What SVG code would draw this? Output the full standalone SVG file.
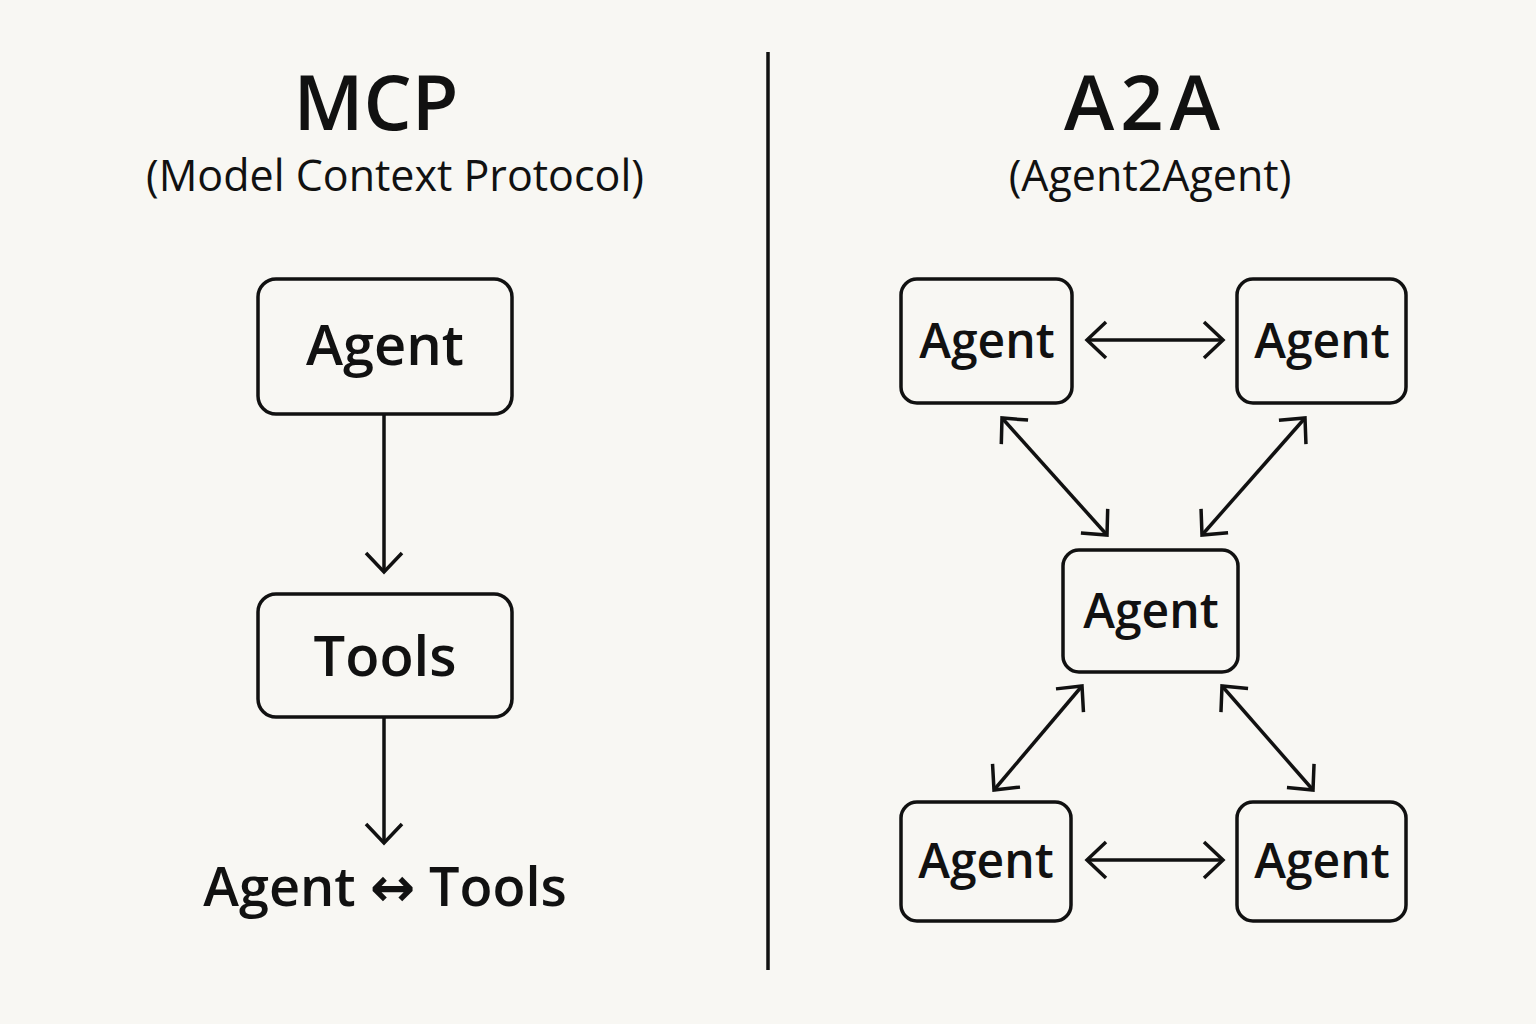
<svg xmlns="http://www.w3.org/2000/svg" width="1536" height="1024" viewBox="0 0 1536 1024">
<style>
.box{fill:none;stroke:#111;stroke-width:3.5}
.c{fill:none;stroke:#111;stroke-width:3.5}
text{font-family:"Open Sans","DejaVu Sans",sans-serif;fill:#111;text-anchor:middle}
.t{font-size:56px;font-weight:600}
.s{font-size:48px;font-weight:600}
</style>
<defs>
<marker id="a" viewBox="0 0 24 40" refX="21" refY="20" markerWidth="24" markerHeight="40" markerUnits="userSpaceOnUse" orient="auto-start-reverse">
<path d="M2 2 L21 20 L2 38" fill="none" stroke="#111" stroke-width="3.5"/>
</marker>
</defs>
<rect width="1536" height="1024" fill="#f8f7f3"/>
<line x1="768" y1="52" x2="768" y2="970" stroke="#111" stroke-width="3.5"/>
<text x="376" y="130" font-size="76" font-weight="600">MCP</text>
<text x="395" y="191" font-size="43">(Model Context Protocol)</text>
<text x="1145" y="130" font-size="76" font-weight="600" letter-spacing="6">A2A</text>
<text x="1150" y="191" font-size="43">(Agent2Agent)</text>
<g id="connectors">
<line class="c" x1="384" y1="414" x2="384" y2="572" marker-end="url(#a)"/>
<line class="c" x1="384" y1="717" x2="384" y2="843" marker-end="url(#a)"/>
<line class="c" x1="1087" y1="340" x2="1223" y2="340" marker-start="url(#a)" marker-end="url(#a)"/>
<line class="c" x1="1087" y1="860" x2="1223" y2="860" marker-start="url(#a)" marker-end="url(#a)"/>
<line class="c" x1="1002" y1="418" x2="1107" y2="535" marker-start="url(#a)" marker-end="url(#a)"/>
<line class="c" x1="1305" y1="418" x2="1202" y2="535" marker-start="url(#a)" marker-end="url(#a)"/>
<line class="c" x1="1082" y1="686" x2="994" y2="790" marker-start="url(#a)" marker-end="url(#a)"/>
<line class="c" x1="1222" y1="686" x2="1313" y2="790" marker-start="url(#a)" marker-end="url(#a)"/>
</g>
<g id="mcp-agent"><rect class="box" x="258" y="279" width="254" height="135" rx="18"/><text class="t" x="385" y="365">Agent</text></g>
<g id="mcp-tools"><rect class="box" x="258" y="594" width="254" height="123" rx="18"/><text class="t" x="385" y="676">Tools</text></g>
<text x="385" y="906" font-size="54" font-weight="600">Agent ↔ Tools</text>
<g id="a-tl"><rect class="box" x="901" y="279" width="171" height="124" rx="16"/><text class="s" x="987" y="358">Agent</text></g>
<g id="a-tr"><rect class="box" x="1237" y="279" width="169" height="124" rx="16"/><text class="s" x="1322" y="358">Agent</text></g>
<g id="a-c"><rect class="box" x="1063" y="550" width="175" height="122" rx="16"/><text class="s" x="1151" y="628">Agent</text></g>
<g id="a-bl"><rect class="box" x="901" y="802" width="170" height="119" rx="16"/><text class="s" x="986" y="878">Agent</text></g>
<g id="a-br"><rect class="box" x="1237" y="802" width="169" height="119" rx="16"/><text class="s" x="1322" y="878">Agent</text></g>
</svg>
